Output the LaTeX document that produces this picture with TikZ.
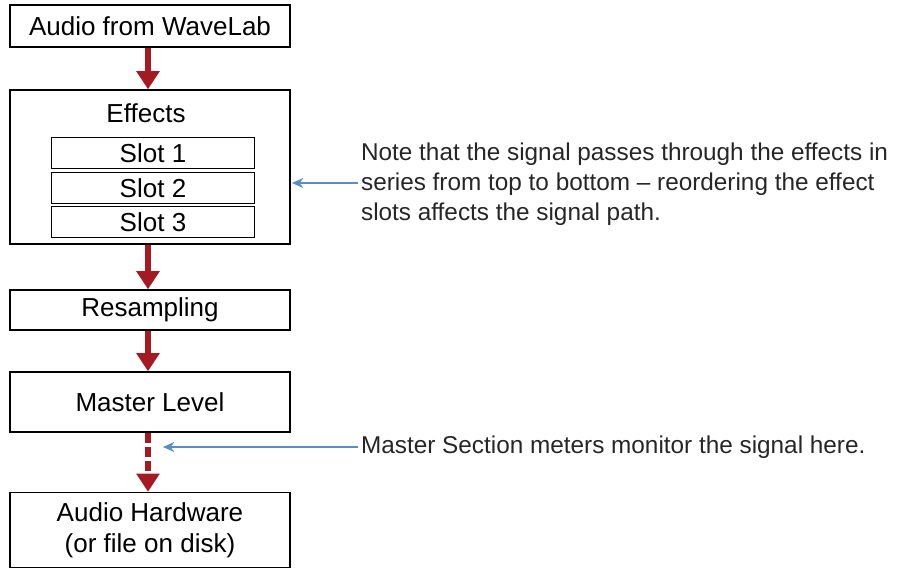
\documentclass[tikz,border=0pt]{standalone}
\usepackage{fontspec}
\setmainfont{Liberation Sans}
\usetikzlibrary{arrows.meta,positioning,calc}
\definecolor{flowred}{RGB}{165,25,35}
\definecolor{noteblue}{RGB}{90,140,200}
\tikzset{
  box/.style={draw, line width=1pt, fill=white, font=\fontsize{18.5}{22}\selectfont, inner sep=0pt},
  flow/.style={flowred, line width=4pt, -{Triangle[width=16pt,length=13pt]}},
  note/.style={noteblue, line width=1.5pt, -{Stealth[length=8pt,width=7pt]}},
  notetext/.style={font=\fontsize{17.3}{21.2}\selectfont, align=left, anchor=west, text=black!85, inner sep=2pt}
}
\begin{document}
\begin{tikzpicture}[x=0.025cm, y=-0.025cm]
    \useasboundingbox (0,0) rectangle (901,570);

    % Main chain
    \node[box, minimum width=280*0.025cm, minimum height=42*0.025cm] (source) at (150,26) {Audio from WaveLab};
    \node[box, minimum width=280*0.025cm, minimum height=154*0.025cm] (effects) at (150,167) {};
    \node[font=\fontsize{18.5}{22}\selectfont] (efftitle) at (146,113) {Effects};
    \foreach \n/\y in {1/153, 2/188, 3/222} {
        \node[box, minimum width=203*0.025cm, minimum height=31*0.025cm] (slot\n) at (153,\y) {Slot \n};
    }
    \node[box, minimum width=280*0.025cm, minimum height=40*0.025cm] (resample) at (150,310) {Resampling};
    \node[box, minimum width=280*0.025cm, minimum height=60*0.025cm] (master) at (150,402) {Master Level};
    \node[box, minimum width=280*0.025cm, minimum height=75*0.025cm, align=center,
          font=\fontsize{18.5}{22}\selectfont] (hardware) at (150,530) {Audio Hardware\\(or file on disk)};

    % Red arrows
    \draw[flow] (source.south -| 148,0) -- (effects.north -| 148,0);
    \draw[flow] (effects.south -| 148,0) -- (resample.north -| 148,0);
    \draw[flow] (resample.south -| 148,0) -- (master.north -| 148,0);
    \draw[flow, dash pattern=on 7pt off 3pt] (master.south -| 148,0) -- (hardware.north -| 148,0);

    % Notes
    \node[notetext] (note1) at (358,184) {Note that the signal passes through the effects in\\series from top to bottom -- reordering the effect\\slots affects the signal path.};
    \node[notetext] (note2) at (358,447) {Master Section meters monitor the signal here.};
    \coordinate (effin) at (292,183);
    \coordinate (tap) at (163,447);
    \draw[note] (note1.west |- effin) -- (effin);
    \draw[note] (note2.west) -- (tap);
\end{tikzpicture}
\end{document}
